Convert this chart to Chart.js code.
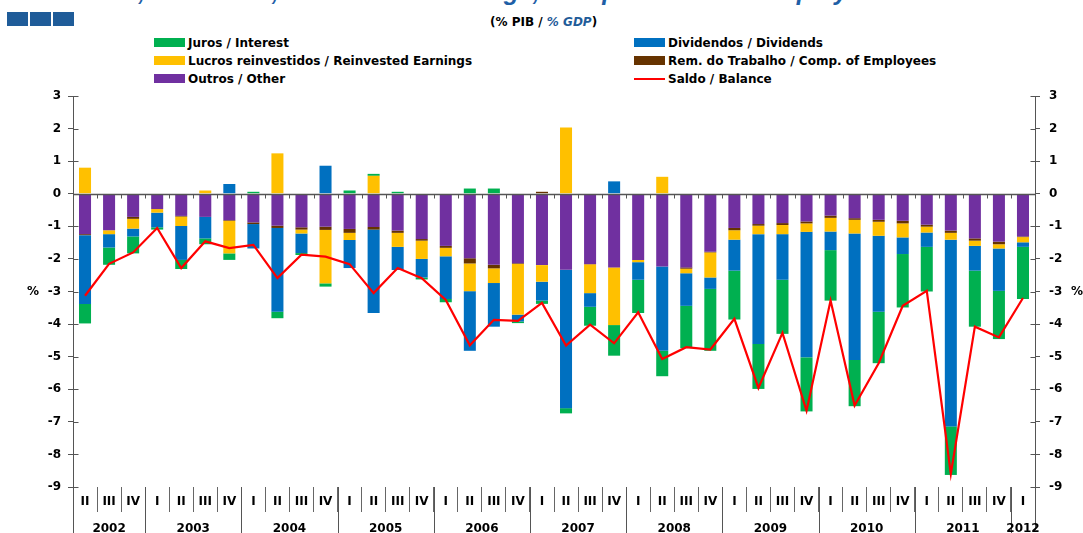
<!DOCTYPE html>
<html>
<head>
<meta charset="utf-8">
<script src="https://cdn.jsdelivr.net/npm/chart.js@4.4.1/dist/chart.umd.min.js"></script>
<style>
  html, body { margin:0; padding:0; background:#fff; }
  body { width:1083px; height:533px; overflow:hidden; position:relative; font-family:"DejaVu Sans", sans-serif; }
  #title { position:absolute; left:48px; top:-21px; white-space:nowrap; font:italic bold 25px "Liberation Sans", Arial, sans-serif; line-height:25px; color:#1F5FA6; }
  .logo { position:absolute; top:12px; width:21px; height:14px; background:#1F5C99; }
  #unit { position:absolute; left:490px; top:16px; font:bold 12px "DejaVu Sans", sans-serif; line-height:12px; color:#000; white-space:nowrap; }
  #unit i { color:#1F5C99; }
  .leg { position:absolute; height:14px; display:flex; align-items:center; white-space:nowrap; font:bold 12px "DejaVu Sans", sans-serif; color:#000; }
  .leg .sw { width:31px; height:9px; margin-right:3px; flex:none; }
  .leg .ln { width:31px; height:2px; margin-right:3px; flex:none; }
  canvas { position:absolute; left:0; top:0; }
</style>
</head>
<body>
<div id="title">Interest, Dividends, Reinvested Earnings, Compensation of Employees</div>
<div class="logo" style="left:7px"></div>
<div class="logo" style="left:30px"></div>
<div class="logo" style="left:53px"></div>
<div id="unit">(% PIB / <i>% GDP</i>)</div>
<div id="legend"></div>
<canvas id="c" width="1083" height="533"></canvas>
<script>
// ---- Data ----
const quarterLabels = ['II','III','IV',
  'I','II','III','IV', 'I','II','III','IV', 'I','II','III','IV', 'I','II','III','IV',
  'I','II','III','IV', 'I','II','III','IV', 'I','II','III','IV', 'I','II','III','IV',
  'I','II','III','IV', 'I'];
const yearLabels = ['2002','2002','2002',
  '2003','2003','2003','2003', '2004','2004','2004','2004', '2005','2005','2005','2005',
  '2006','2006','2006','2006', '2007','2007','2007','2007', '2008','2008','2008','2008',
  '2009','2009','2009','2009', '2010','2010','2010','2010', '2011','2011','2011','2011', '2012'];

const outros = [-1.24,-1.12,-0.71,-0.47,-0.68,-0.71,-0.81,-0.88,-0.98,-1.03,-1.01,-1.08,-1.02,-1.13,-1.39,-1.60,-1.98,-2.18,-2.13,-2.19,-2.33,-2.16,-2.26,-2.03,-2.23,-2.26,-1.78,-1.05,-0.93,-0.90,-0.85,-0.67,-0.75,-0.80,-0.83,-0.95,-1.13,-1.37,-1.47,-1.31];
const remTrabalho = [-0.03,0,-0.06,0,-0.02,0,-0.02,-0.05,-0.07,-0.07,-0.10,-0.12,-0.08,-0.07,-0.05,-0.06,-0.16,-0.11,-0.02,0.06,0,0,0,0,0,-0.04,-0.02,-0.07,-0.05,-0.06,-0.06,-0.07,-0.05,-0.06,-0.08,-0.06,-0.07,-0.07,-0.08,-0.02];
const lucros = [0.80,-0.12,-0.30,-0.11,-0.29,0.10,-1.00,0,1.24,-0.12,-1.64,-0.22,0.55,-0.43,-0.56,-0.26,-0.85,-0.45,-1.56,-0.51,2.03,-0.89,-1.77,-0.07,0.52,-0.14,-0.77,-0.29,-0.26,-0.28,-0.26,-0.42,-0.42,-0.43,-0.43,-0.18,-0.21,-0.16,-0.13,-0.16];
const dividendos = [-2.11,-0.41,-0.24,-0.45,-1.04,-0.66,0.30,-0.75,-2.57,-0.60,0.86,-0.86,-2.56,-0.71,-0.57,-1.31,-1.83,-1.34,-0.21,-0.58,-4.25,-0.42,0.38,-0.54,-2.59,-1.00,-0.35,-0.95,-3.37,-1.40,-3.85,-0.57,-3.88,-2.33,-0.51,-0.44,-5.73,-0.76,-1.30,-0.14];
const juros = [-0.60,-0.53,-0.52,-0.07,-0.28,-0.18,-0.20,0.06,-0.20,-0.06,-0.10,0.10,0.06,0.06,-0.06,-0.10,0.16,0.16,-0.05,-0.10,-0.16,-0.58,-0.94,-1.02,-0.78,-1.30,-1.90,-1.50,-1.38,-1.66,-1.66,-1.55,-1.42,-1.58,-1.64,-1.37,-1.49,-1.72,-1.48,-1.60];
const saldo = [-3.13,-2.15,-1.80,-1.05,-2.28,-1.46,-1.67,-1.57,-2.59,-1.87,-1.93,-2.16,-3.05,-2.28,-2.59,-3.26,-4.65,-3.87,-3.90,-3.35,-4.66,-4.02,-4.59,-3.64,-5.07,-4.71,-4.78,-3.84,-5.96,-4.27,-6.66,-3.28,-6.50,-5.20,-3.44,-2.98,-8.60,-4.08,-4.41,-3.20];

const seriesNames = {
  juros: 'Juros / Interest',
  dividendos: 'Dividendos / Dividends',
  lucros: 'Lucros reinvestidos / Reinvested Earnings',
  rem: 'Rem. do Trabalho / Comp. of Employees',
  outros: 'Outros / Other',
  saldo: 'Saldo / Balance'
};
const colors = { juros:'#00B050', dividendos:'#0070C0', lucros:'#FFC000', rem:'#663300', outros:'#7030A0', saldo:'#FF0000' };
const yTicks = { min:-9, max:3, step:1 };

// ---- HTML legend (two columns, reading order as in the original) ----
const legendItems = [
  { key:'juros', col:0, row:0 }, { key:'dividendos', col:1, row:0 },
  { key:'lucros', col:0, row:1 }, { key:'rem', col:1, row:1 },
  { key:'outros', col:0, row:2 }, { key:'saldo', col:1, row:2 }
];
const legendEl = document.getElementById('legend');
legendItems.forEach(it => {
  const d = document.createElement('div');
  d.className = 'leg';
  d.style.left = (it.col === 0 ? 154 : 634) + 'px';
  d.style.top = (35.5 + it.row * 18) + 'px';
  const sw = document.createElement('span');
  sw.className = it.key === 'saldo' ? 'ln' : 'sw';
  sw.style.background = colors[it.key];
  const tx = document.createElement('span');
  tx.textContent = seriesNames[it.key];
  d.appendChild(sw); d.appendChild(tx);
  legendEl.appendChild(d);
});

// ---- Plugin: axis decorations (zero line, year row, crossing ticks, % labels) ----
const AXIS = '#555555';
const FONT = 'bold 12px "DejaVu Sans", sans-serif';
const decor = {
  id: 'decor',
  afterDatasetsDraw(chart) {
    const { ctx, chartArea: a, scales: { x, y } } = chart;
    const y0 = Math.round(y.getPixelForValue(0)) + 0.5;
    ctx.save();
    ctx.strokeStyle = AXIS;
    ctx.lineWidth = 1.5;
    ctx.beginPath(); ctx.moveTo(a.left, y0); ctx.lineTo(a.right, y0); ctx.stroke();
    ctx.lineWidth = 1;
    ctx.beginPath();
    for (let i = 1; i < quarterLabels.length; i++) {
      const xb = Math.round((x.getPixelForValue(i - 1) + x.getPixelForValue(i)) / 2) + 0.5;
      ctx.moveTo(xb, y0); ctx.lineTo(xb, y0 + 4);
    }
    ctx.stroke();
    ctx.restore();
  },
  afterDraw(chart) {
    const { ctx, chartArea: a, scales: { x, y } } = chart;
    const H = chart.height;
    ctx.save();
    ctx.strokeStyle = AXIS;
    ctx.lineWidth = 1;
    // axis lines extended down through the label rows
    const xl = Math.round(a.left) + 0.5, xr = Math.round(a.right) + 0.5;
    ctx.beginPath();
    ctx.moveTo(xl, a.bottom); ctx.lineTo(xl, H);
    ctx.moveTo(xr, a.bottom); ctx.lineTo(xr, H - 3);
    // inner halves of the y tick marks
    y.ticks.forEach(t => {
      const py = Math.round(y.getPixelForValue(t.value)) + 0.5;
      ctx.moveTo(xl, py); ctx.lineTo(xl + 5, py);
      ctx.moveTo(xr, py); ctx.lineTo(xr - 5, py);
    });
    ctx.stroke();
    // year separators and year labels
    ctx.font = FONT;
    ctx.fillStyle = '#000';
    ctx.textAlign = 'center';
    ctx.textBaseline = 'alphabetic';
    let start = 0;
    for (let i = 1; i <= yearLabels.length; i++) {
      if (i === yearLabels.length || yearLabels[i] !== yearLabels[start]) {
        const cx = (x.getPixelForValue(start) + x.getPixelForValue(i - 1)) / 2;
        ctx.fillText(yearLabels[start], cx, H - 1);
        if (i < yearLabels.length) {
          const xb = Math.round((x.getPixelForValue(i - 1) + x.getPixelForValue(i)) / 2) + 0.5;
          ctx.beginPath(); ctx.moveTo(xb, a.bottom); ctx.lineTo(xb, H); ctx.stroke();
        }
        start = i;
      }
    }
    // % unit labels beside both axes
    ctx.textBaseline = 'middle';
    const pyU = y.getPixelForValue(-3);
    ctx.fillText('%', a.left - 40, pyU);
    ctx.fillText('%', a.right + 42, pyU);
    ctx.restore();
  }
};

const yScaleBase = {
  min: yTicks.min, max: yTicks.max,
  stacked: true,
  grid: { display: true, drawOnChartArea: false, drawTicks: true, tickLength: 5, color: AXIS },
  border: { display: true, color: AXIS, width: 1 },
  ticks: { stepSize: yTicks.step, color: '#000', font: { family: 'DejaVu Sans', weight: 'bold', size: 12 } }
};

new Chart(document.getElementById('c'), {
  type: 'bar',
  data: {
    labels: quarterLabels,
    datasets: [
      { label: seriesNames.outros, data: outros, backgroundColor: colors.outros, stack: 's' },
      { label: seriesNames.rem, data: remTrabalho, backgroundColor: colors.rem, stack: 's' },
      { label: seriesNames.lucros, data: lucros, backgroundColor: colors.lucros, stack: 's' },
      { label: seriesNames.dividendos, data: dividendos, backgroundColor: colors.dividendos, stack: 's' },
      { label: seriesNames.juros, data: juros, backgroundColor: colors.juros, stack: 's' },
      { type: 'line', label: seriesNames.saldo, data: saldo, borderColor: colors.saldo, backgroundColor: colors.saldo,
        borderWidth: 2.2, pointRadius: 0, tension: 0, fill: false, stack: 'line', order: -1 }
    ]
  },
  options: {
    responsive: false,
    animation: false,
    devicePixelRatio: 1,
    layout: { padding: { top: 96, left: 0, right: 0, bottom: 0 } },
    datasets: { bar: { barPercentage: 0.5, categoryPercentage: 1.0, borderWidth: 0 } },
    plugins: { legend: { display: false }, tooltip: { enabled: false }, title: { display: false } },
    scales: {
      x: {
        stacked: true,
        offset: true,
        grid: { display: true, offset: true, drawOnChartArea: false, drawTicks: true, tickLength: 25, color: '#666' },
        border: { display: false },
        ticks: { color: '#000', autoSkip: false, maxRotation: 0, padding: -17,
                 font: { family: 'DejaVu Sans', weight: 'bold', size: 12 } },
        afterFit: s => { s.height = 46; }
      },
      y: Object.assign({}, yScaleBase, {
        position: 'left',
        ticks: Object.assign({}, yScaleBase.ticks, { padding: 7 }),
        afterFit: s => { s.width = 73; }
      }),
      y2: Object.assign({}, yScaleBase, {
        position: 'right',
        stacked: false,
        ticks: Object.assign({}, yScaleBase.ticks, { padding: 9 }),
        afterFit: s => { s.width = 48; }
      })
    }
  },
  plugins: [decor]
});
</script>
</body>
</html>
